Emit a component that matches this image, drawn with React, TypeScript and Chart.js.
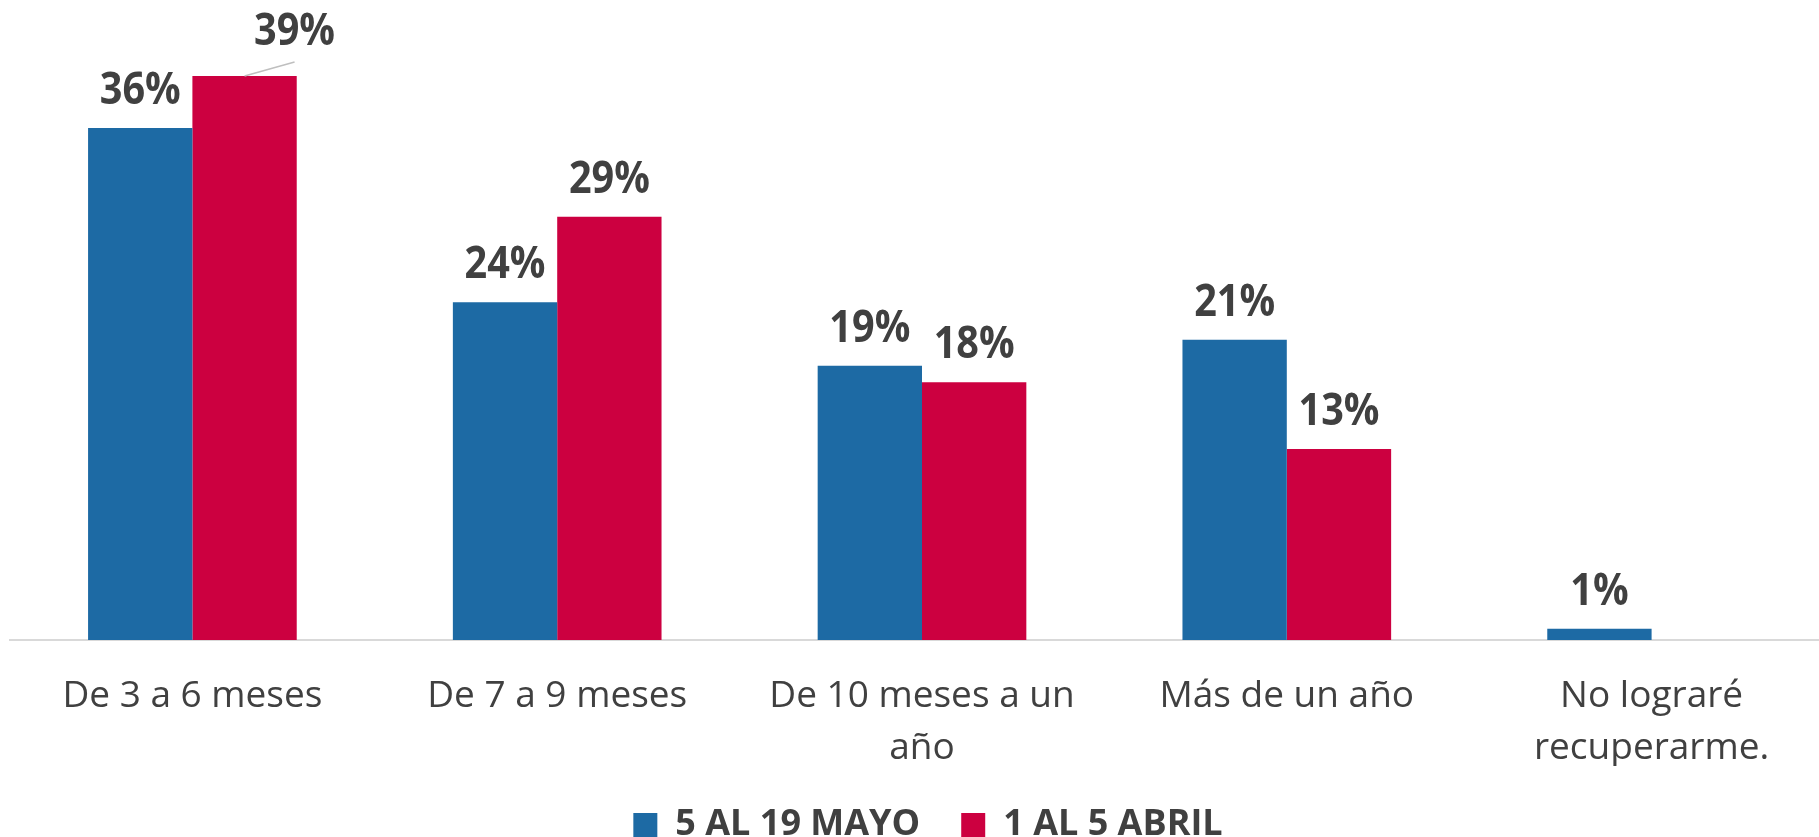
import React, { useEffect, useRef } from "react";
import { Chart, registerables } from "chart.js";

Chart.register(...registerables);

const categories: (string | string[])[] = [
  "De 3 a 6 meses",
  "De 7 a 9 meses",
  ["De 10 meses a un", "año"],
  "Más de un año",
  ["No lograré", "recuperarme."],
];
const seriesNames = ["5 AL 19 MAYO", "1 AL 5 ABRIL"];
const mayo = [35.64, 23.51, 19.09, 20.91, 0.79];
const abril = [39.26, 29.46, 17.94, 13.29, null];

const BLUE = "#1D6AA4";
const RED = "#CC0040";
const TEXT = "#404040";

const drawText = (ctx: any, txt: string, x: number, y: number) => {
  ctx.save();
  ctx.translate(x, y);
  ctx.scale(0.9, 1);
  ctx.fillText(txt, 0, 0);
  ctx.restore();
};

const valueLabels = {
  id: "valueLabels",
  afterDatasetsDraw(chart: any, _args: any, opts: any) {
    const ctx = chart.ctx;
    ctx.save();
    ctx.font = "bold 44px 'Open Sans'";
    ctx.fillStyle = TEXT;
    ctx.textAlign = "center";
    ctx.textBaseline = "alphabetic";
    chart.data.datasets.forEach((ds: any, di: number) => {
      const meta = chart.getDatasetMeta(di);
      meta.data.forEach((el: any, i: number) => {
        const v = ds.data[i];
        if (v === null || v === undefined) return;
        const txt = Math.round(v) + "%";
        const call = (opts.callouts || []).find((c: any) => c.dataset === di && c.index === i);
        if (call) {
          ctx.strokeStyle = "#BFBFBF";
          ctx.lineWidth = 1.5;
          ctx.beginPath();
          ctx.moveTo(el.x, el.y);
          ctx.lineTo(el.x + call.dx, el.y - call.lineDy);
          ctx.stroke();
          drawText(ctx, txt, el.x + call.dx, el.y - call.dy);
        } else {
          drawText(ctx, txt, el.x, el.y - 24);
        }
      });
    });
    ctx.restore();
  },
};

const legendShift = {
  id: "legendShift",
  afterLayout(chart: any, _args: any, opts: any) {
    if (chart.legend) {
      chart.legend.left += opts.dx;
      chart.legend.right += opts.dx;
    }
  },
};

export default function App() {
  const ref = useRef<HTMLCanvasElement | null>(null);
  useEffect(() => {
    if (!ref.current) return;
    const chart = new Chart(ref.current, {
      type: "bar",
      data: {
        labels: categories,
        datasets: [
          { label: seriesNames[0], data: mayo, backgroundColor: BLUE },
          { label: seriesNames[1], data: abril as any, backgroundColor: RED },
        ],
      },
      options: {
        responsive: false,
        animation: false,
        events: [],
        layout: { padding: { left: 10, right: 2, top: 8, bottom: -16 } },
        datasets: { bar: { categoryPercentage: 0.572, barPercentage: 1.0 } },
        scales: {
          x: {
            grid: { display: false },
            border: { display: true, color: "#D9D9D9", width: 2 },
            ticks: {
              color: TEXT,
              font: { family: "'Open Sans'", size: 37, lineHeight: 1.4 },
              padding: 23,
              maxRotation: 0,
              autoSkip: false,
            },
            afterFit: (scale: any) => {
              scale.height = 126;
            },
          },
          y: { display: false, min: 0, max: 44 },
        },
        plugins: {
          tooltip: { enabled: false },
          legend: {
            position: "bottom",
            labels: {
              color: TEXT,
              font: { family: "'Open Sans'", size: 36, weight: "bold" },
              boxWidth: 24,
              boxHeight: 24,
              padding: 41,
            },
          },
          legendShift: { dx: 6 },
          valueLabels: { callouts: [{ dataset: 1, index: 0, dx: 50, lineDy: 14, dy: 30.6 }] },
        } as any,
      },
      plugins: [valueLabels, legendShift],
    });
    return () => chart.destroy();
  }, []);
  return (
    <div style={{ position: "absolute", left: 0, top: 0, width: 1819, height: 837, overflow: "hidden", background: "#fff" }}>
      <canvas ref={ref} width={1836} height={837} style={{ display: "block", width: 1836, height: 837 }} />
    </div>
  );
}
